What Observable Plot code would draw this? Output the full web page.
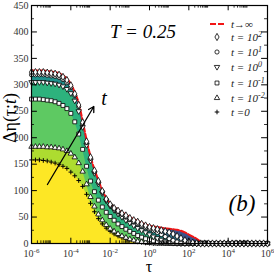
<!DOCTYPE html>
<html><head><meta charset="utf-8">
<script src="https://cdn.jsdelivr.net/npm/d3@7"></script>
<script src="https://cdn.jsdelivr.net/npm/@observablehq/plot@0.6"></script>
<style>html,body{margin:0;padding:0;background:#fff;} svg text{font-family:"Liberation Serif","Times New Roman",serif;}</style>
</head><body><div id="chart"></div>
<script>
// log10(tau) grid of the plotted points
const logTau = [-6,-5.8,-5.6,-5.4,-5.2,-5,-4.8,-4.6,-4.4,-4.2,-4,-3.8,-3.6,-3.4,-3.2,-3,-2.8,-2.6,-2.4,-2.2,-2,-1.8,-1.6,-1.4,-1.2,-1,-0.8,-0.6,-0.4,-0.2,0,0.2,0.4,0.6,0.8,1,1.2,1.4,1.6,1.8,2,2.2,2.4,2.6,2.8,3,3.2,3.4,3.6,3.8,4,4.2,4.4,4.6,4.8,5,5.2,5.4,5.6,5.8,6];
const tInf = [327,327,327,327,326,325,324,322,318,312,302,286,266,232,196,165,140,120,101,86,76,69,64,59,55,50,46,43,39,36,34,32,31,30,29,28,27,26,24,21,17,13,9,4,1,0,0,0,0,0,0,0,0,0,0,0,0,0,0,0,0];
const t1e2 = [324,324,324,324,323,322,321,319,315,309,299,283,262,229,193,163,138,118,99,84,74,67,62,57,53,48,44,41,37,34,31,29,27,25,23,21,18,14,10,6,3,1.5,0.5,0,0,0,0,0,0,0,0,0,0,0,0,0,0,0,0,0,0];
const t1e1 = [319,319,319,319,318,317,316,314,310,304,295,280,259,226,191,161,136,116,98,83,73,66,60,55,50,45,41,37,33,30,27,24,21,17,13,9,6,3,1.5,0.5,0,0,0,0,0,0,0,0,0,0,0,0,0,0,0,0,0,0,0,0,0];
const t1e0 = [305,305,305,305,304,303,302,300,297,292,284,270,250,220,186,157,133,113,95,81,71,63,56,50,44,39,34,29,25,21,17,13,10,7,4,2,1,0.5,0,0,0,0,0,0,0,0,0,0,0,0,0,0,0,0,0,0,0,0,0,0,0];
const t1em1 = [273,273,273,272,271,270,268,265,261,255,246,230,207,178,146,118,98,82,69,59,51,44,37,32,27,23,19,15,12,9,7,5,3,2,1,0.5,0,0,0,0,0,0,0,0,0,0,0,0,0,0,0,0,0,0,0,0,0,0,0,0,0];
const t1em2 = [183,183,183,183,182,182,181,180,178,175,170,163,152,136,112,88,70,55,44,35,28,23,18,14,11,8,6,4,3,2,1,0.5,0,0,0,0,0,0,0,0,0,0,0,0,0,0,0,0,0,0,0,0,0,0,0,0,0,0,0,0,0];
const t0 = [158,158,158,157,156,154,152,149,146,142,135,128,119,108,93,76,60,47,37,29,23,18,14,11,8,6,4,3,2,1,0.5,0,0,0,0,0,0,0,0,0,0,0,0,0,0,0,0,0,0,0,0,0,0,0,0,0,0,0,0,0,0];
const seriesNames = ["t→∞","t = 10^2","t = 10^1","t = 10^0","t = 10^-1","t = 10^-2","t =0"];
const xTickExps = [-6,-4,-2,0,2,4,6];
const yTicks = [0,50,100,150,200,250,300,350,400,450];
const arrowFrom = [-5.19, 111.5];  // [log10 tau, value]
const arrowTo = [-2.83, 259];

const rows = logTau.map((L, i) => ({tau: 10 ** L, inf: tInf[i], e2: t1e2[i], e1: t1e1[i], e0: t1e0[i], em1: t1em1[i], em2: t1em2[i], z: t0[i]}));

const bands = [
  {key: "inf", fill: "#3b528b"},
  {key: "e2", fill: "#2c728e"},
  {key: "e1", fill: "#21918c"},
  {key: "e0", fill: "#2db27d"},
  {key: "em1", fill: "#5ec962"},
  {key: "em2", fill: "#addc30"},
  {key: "z", fill: "#fde725"}
];
const markers = [
  {key: "z", symbol: "plus", r: 1.6, rotate: 0},
  {key: "em2", symbol: "triangle", r: 2.0, rotate: 0},
  {key: "em1", symbol: "square", r: 2.2, rotate: 0},
  {key: "e0", symbol: "triangle", r: 2.0, rotate: 180},
  {key: "e1", symbol: "circle", r: 2.1, rotate: 0},
  {key: "e2", symbol: "diamond", r: 2.2, rotate: 0}
];

const xMajor = xTickExps.map(e => 10 ** e);
const xMinor = [];
for (const e of [-6,-4,-2,0,2,4]) for (let m = 2; m <= 9; m++) xMinor.push(m * 10 ** e);
const yMinor = yTicks.slice(0, -1).map(v => v + 25);
const serif = "Liberation Serif, Times New Roman, serif";

const marks = [];
for (const b of bands) marks.push(Plot.areaY(rows, {x: "tau", y: b.key, fill: b.fill, curve: "monotone-x"}));
marks.push(Plot.line(rows, {x: "tau", y: "inf", stroke: "#f21515", strokeWidth: 2, strokeDasharray: "6,2", curve: "monotone-x"}));
for (const m of markers) {
  if (m.symbol === "plus") marks.push(Plot.dot(rows, {x: "tau", y: m.key, symbol: "plus", r: m.r, stroke: "black", strokeWidth: 1}));
  else marks.push(Plot.dot(rows, {x: "tau", y: m.key, symbol: m.symbol, r: m.r, rotate: m.rotate, fill: "white", stroke: "black", strokeWidth: 0.8}));
}
// inward ticks
marks.push(Plot.ruleX(xMajor, {x: d => d, y1: 0, y2: 10, stroke: "black", strokeWidth: 1}));
marks.push(Plot.ruleX(xMajor, {x: d => d, y1: 450, y2: 440, stroke: "black", strokeWidth: 1}));
marks.push(Plot.ruleX(xMinor, {x: d => d, y1: 0, y2: 5, stroke: "black", strokeWidth: 0.8}));
marks.push(Plot.ruleX(xMinor, {x: d => d, y1: 450, y2: 445, stroke: "black", strokeWidth: 0.8}));
marks.push(Plot.ruleY(yTicks, {y: d => d, x1: 1e-6, x2: 10 ** -5.7, stroke: "black", strokeWidth: 1}));
marks.push(Plot.ruleY(yTicks, {y: d => d, x1: 1e6, x2: 10 ** 5.7, stroke: "black", strokeWidth: 1}));
marks.push(Plot.ruleY(yMinor, {y: d => d, x1: 1e-6, x2: 10 ** -5.85, stroke: "black", strokeWidth: 0.8}));
marks.push(Plot.ruleY(yMinor, {y: d => d, x1: 1e6, x2: 10 ** 5.85, stroke: "black", strokeWidth: 0.8}));
marks.push(Plot.frame({stroke: "black", strokeWidth: 1.2}));
marks.push(Plot.axisY({ticks: yTicks, tickSize: 0, tickPadding: 3, fontSize: 10, fill: "#333", label: null}));
marks.push(Plot.axisX({ticks: xMajor, tickSize: 0, tickPadding: 6, fontSize: 10, fill: "#333", label: null,
  tickFormat: d => String(Math.round(Math.log10(d)))}));
marks.push(Plot.arrow([0], {x1: () => 10 ** arrowFrom[0], y1: () => arrowFrom[1], x2: () => 10 ** arrowTo[0], y2: () => arrowTo[1], stroke: "black", strokeWidth: 1.3, headLength: 7}));
marks.push(Plot.text(["t"], {x: () => 10 ** -2.31, y: () => 274, text: d => d, fontSize: 20, fontStyle: "italic", fill: "black"}));
marks.push(Plot.text(["T = 0.25"], {x: () => 10 ** -0.33, y: () => 401, text: d => d, fontSize: 19, fontStyle: "italic", fill: "black"}));
marks.push(Plot.text(["(b)"], {x: () => 10 ** 4.7, y: () => 76, text: d => d, fontSize: 23, fontStyle: "italic", fill: "black"}));

const chart = Plot.plot({
  width: 274, height: 274,
  marginLeft: 31, marginRight: 7, marginTop: 5, marginBottom: 31,
  x: {type: "log", domain: [1e-6, 1e6]},
  y: {domain: [0, 450]},
  style: {fontFamily: serif, fontSize: "10px", background: "white", overflow: "visible"},
  marks
});
document.getElementById("chart").appendChild(chart);

const svg = d3.select(chart);
// superscript x tick labels
svg.selectAll('g[aria-label="x-axis tick label"] text').each(function() {
  const e = this.textContent;
  const t = d3.select(this);
  t.text("");
  t.append("tspan").text("10");
  t.append("tspan").attr("dy", "-0.45em").attr("font-size", "7px").text(e);
});
// axis titles
const yl = svg.append("text").attr("transform", "translate(16,118) rotate(-90)").attr("text-anchor", "middle")
  .attr("font-size", 18).attr("fill", "black");
yl.append("tspan").text("Δη(τ;");
yl.append("tspan").attr("font-style", "italic").text("t");
yl.append("tspan").text(")");
svg.append("text").attr("x", 149).attr("y", 272).attr("text-anchor", "middle").attr("font-size", 16)
  .attr("fill", "black").text("τ");

// legend
const lg = svg.append("g").attr("font-style", "italic").attr("font-size", 11).attr("fill", "#222").attr("text-anchor", "start");
const symX = 217, txtX = 231;
const rowY = [24, 37, 52, 67, 83, 98, 112];
lg.append("line").attr("x1", 210).attr("x2", 224).attr("y1", rowY[0]).attr("y2", rowY[0])
  .attr("stroke", "#f21515").attr("stroke-width", 2.2).attr("stroke-dasharray", "6,2");
const legSym = [null,
  {type: d3.symbolDiamond, r: 2.2, rot: 0},
  {type: d3.symbolCircle, r: 2.1, rot: 0},
  {type: d3.symbolTriangle, r: 2.0, rot: 180},
  {type: d3.symbolSquare, r: 2.2, rot: 0},
  {type: d3.symbolTriangle, r: 2.0, rot: 0},
  {type: d3.symbolPlus, r: 1.6, rot: 0, plus: true}];
seriesNames.forEach((name, i) => {
  const y = rowY[i];
  const s = legSym[i];
  if (s) {
    lg.append("path").attr("d", d3.symbol(s.type, s.r * s.r * Math.PI)())
      .attr("transform", `translate(${symX},${y}) rotate(${s.rot})`)
      .attr("fill", s.plus ? "none" : "white").attr("stroke", "black").attr("stroke-width", s.plus ? 1 : 0.8);
  }
  const t = lg.append("text").attr("x", txtX).attr("y", y + 4);
  const parts = name.split("^");
  t.append("tspan").text(parts[0]);
  if (parts[1] !== undefined) t.append("tspan").attr("dy", "-0.5em").attr("font-size", "8px").text(parts[1]);
});
</script>
</body></html>
